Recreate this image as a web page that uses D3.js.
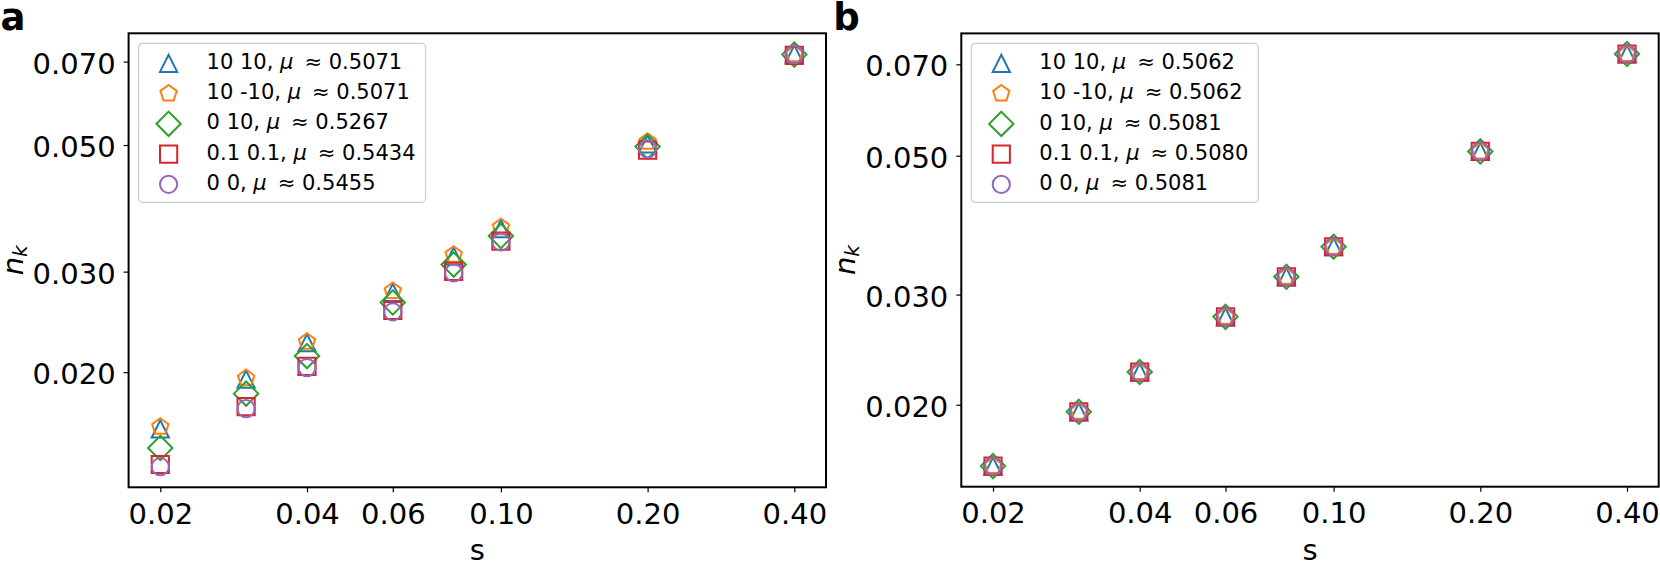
<!DOCTYPE html>
<html>
<head>
<meta charset="utf-8">
<script src="https://cdn.jsdelivr.net/npm/d3@7"></script>
<style>
  body { margin: 0; background: #ffffff; }
  svg text { font-family: "DejaVu Sans", sans-serif; fill: #000; }
</style>
</head>
<body>
<svg id="chart" width="1660" height="564"></svg>
<script>
// x values (s) and tick labels
var s_values = [0.02, 0.03, 0.04, 0.06, 0.08, 0.10, 0.20, 0.40];
var x_ticks = [0.02, 0.04, 0.06, 0.10, 0.20, 0.40];
var y_ticks = [0.020, 0.030, 0.050, 0.070];

// series labels and mu values shown in the legends
var series_names = ["10 10", "10 -10", "0 10", "0.1 0.1", "0 0"];
var mu_a = ["0.5071", "0.5071", "0.5267", "0.5434", "0.5455"];
var mu_b = ["0.5062", "0.5062", "0.5081", "0.5080", "0.5081"];

// panel a, n_k per series
var nk_a_10_10  = [0.01591, 0.01944, 0.02252, 0.02758, 0.03193, 0.03569, 0.05025, 0.0722];
var nk_a_10_m10 = [0.01604, 0.01952, 0.02260, 0.02774, 0.03211, 0.03588, 0.05065, 0.0721];
var nk_a_0_10   = [0.01473, 0.01834, 0.02134, 0.02649, 0.03087, 0.03464, 0.04968, 0.0720];
var nk_a_01_01  = [0.01378, 0.01740, 0.02047, 0.02565, 0.03004, 0.03394, 0.04897, 0.0718];
var nk_a_0_0    = [0.01366, 0.01726, 0.02037, 0.02551, 0.02985, 0.03383, 0.04923, 0.0720];

// panel b, n_k per series
var nk_b_10_10  = [0.01596, 0.01949, 0.02256, 0.02764, 0.03203, 0.03577, 0.05080, 0.0727];
var nk_b_10_m10 = [0.01596, 0.01949, 0.02256, 0.02764, 0.03203, 0.03577, 0.05080, 0.0727];
var nk_b_0_10   = [0.01596, 0.01949, 0.02256, 0.02764, 0.03203, 0.03577, 0.05080, 0.0727];
var nk_b_01_01  = [0.01596, 0.01949, 0.02256, 0.02764, 0.03203, 0.03577, 0.05080, 0.0727];
var nk_b_0_0    = [0.01596, 0.01949, 0.02256, 0.02764, 0.03203, 0.03577, 0.05080, 0.0727];

var colors = ["#1f77b4", "#ff7f0e", "#2ca02c", "#d62728", "#9467bd"];
var shapes = ["triangle", "pentagon", "diamond", "square", "circle"];

var MS = 8.6;        // half marker size (px)
var FONT = 29;       // tick / label font size
var LEG_FONT = 21;

function markerPath(shape, r) {
    if (shape === "triangle")
        return "M0," + (-r) + "L" + r + "," + r + "L" + (-r) + "," + r + "Z";
    if (shape === "pentagon") {
        var p = d3.range(5).map(function (k) {
            var a = -Math.PI / 2 + k * 2 * Math.PI / 5;
            return [r * Math.cos(a), r * Math.sin(a)];
        });
        return "M" + p.map(function (q) { return q.join(","); }).join("L") + "Z";
    }
    if (shape === "diamond") {
        var d = r * Math.SQRT2;
        return "M0," + (-d) + "L" + d + ",0L0," + d + "L" + (-d) + ",0Z";
    }
    if (shape === "square")
        return "M" + (-r) + "," + (-r) + "H" + r + "V" + r + "H" + (-r) + "Z";
    // circle
    return "M" + r + ",0A" + r + "," + r + " 0 1,1 " + (-r) + ",0A" + r + "," + r + " 0 1,1 " + r + ",0Z";
}

// log domain with 5% margins, like matplotlib autoscale
function logDomain(values) {
    var lo = Math.log10(d3.min(values)), hi = Math.log10(d3.max(values));
    var m = 0.05 * (hi - lo);
    return [Math.pow(10, lo - m), Math.pow(10, hi + m)];
}

var svg = d3.select("#chart");

function drawPanel(opts) {
    var w = opts.right - opts.left, h = opts.bottom - opts.top;
    var g = svg.append("g").attr("transform", "translate(" + opts.left + "," + opts.top + ")");

    var x = d3.scaleLog().domain(logDomain(s_values)).range([0, w]);
    var allY = [].concat.apply([], opts.series);
    var y = d3.scaleLog().domain(logDomain(allY)).range([h, 0]);

    // x axis
    var xa = g.append("g").attr("transform", "translate(0," + h + ")")
        .call(d3.axisBottom(x).tickValues(x_ticks).tickFormat(d3.format(".2f"))
              .tickSize(5).tickSizeOuter(0).tickPadding(11));
    // y axis
    var ya = g.append("g")
        .call(d3.axisLeft(y).tickValues(y_ticks).tickFormat(d3.format(".3f"))
              .tickSize(5).tickSizeOuter(0).tickPadding(8));
    [xa, ya].forEach(function (a) {
        a.select(".domain").remove();
        a.selectAll(".tick line").attr("stroke", "#000").attr("stroke-width", 1.2);
        a.selectAll(".tick text").style("font-size", FONT + "px")
            .style("font-family", "DejaVu Sans").attr("fill", "#000");
    });
    ya.selectAll(".tick text").attr("dy", "0.4em");

    // markers
    opts.series.forEach(function (vals, i) {
        g.append("g").selectAll("path")
            .data(vals.map(function (v, j) { return [s_values[j], v]; }))
            .join("path")
            .attr("transform", function (d) { return "translate(" + x(d[0]) + "," + y(d[1]) + ")"; })
            .attr("d", markerPath(shapes[i], MS))
            .attr("fill", "none")
            .attr("stroke", colors[i])
            .attr("stroke-width", 2);
    });

    // frame
    g.append("rect").attr("width", w).attr("height", h)
        .attr("fill", "none").attr("stroke", "#000").attr("stroke-width", 2);

    // legend
    var lg = g.append("g").attr("transform", "translate(10,10)");
    var box = lg.append("rect").attr("rx", 4).attr("ry", 4)
        .attr("fill", "#fff").attr("fill-opacity", 0.8)
        .attr("stroke", "#cccccc").attr("stroke-width", 1.2);
    var maxW = 0;
    series_names.forEach(function (name, i) {
        var cy = 20 + i * 30.25;
        lg.append("path").attr("transform", "translate(30," + cy + ")")
            .attr("d", markerPath(shapes[i], MS))
            .attr("fill", "none").attr("stroke", colors[i]).attr("stroke-width", 2);
        var t = lg.append("text").attr("x", 68).attr("y", cy + 5.7)
            .style("font-size", LEG_FONT + "px");
        t.append("tspan").text(name + ", ");
        t.append("tspan").style("font-style", "italic").text("\u03bc");
        t.append("tspan").attr("dx", 11).text("\u2248");
        t.append("tspan").text(" " + opts.mu[i]);
        maxW = Math.max(maxW, t.node().getBBox().width);
    });
    box.attr("width", 68 + maxW + 10).attr("height", 159);

    // axis labels
    g.append("text").attr("x", w / 2).attr("y", 560 - opts.top)
        .attr("text-anchor", "middle").style("font-size", FONT + "px").text("s");
    var yl = g.append("text")
        .attr("transform", "translate(-106," + (h / 2) + ") rotate(-90)")
        .attr("text-anchor", "middle").style("font-size", FONT + "px");
    yl.append("tspan").style("font-style", "italic").text("n");
    yl.append("tspan").style("font-style", "italic").style("font-size", (FONT * 0.7) + "px")
        .attr("dy", 4).text("k");

    // panel letter
    svg.append("text").attr("x", opts.left - 128).attr("y", 29.5)
        .style("font-size", "37px").style("font-weight", "bold").text(opts.letter);
}

drawPanel({
    letter: "a", left: 128.6, right: 826, top: 33.3, bottom: 487.3, mu: mu_a,
    series: [nk_a_10_10, nk_a_10_m10, nk_a_0_10, nk_a_01_01, nk_a_0_0]
});
drawPanel({
    letter: "b", left: 961.3, right: 1658.7, top: 33.4, bottom: 486.7, mu: mu_b,
    series: [nk_b_10_10, nk_b_10_m10, nk_b_0_10, nk_b_01_01, nk_b_0_0]
});
</script>
</body>
</html>
